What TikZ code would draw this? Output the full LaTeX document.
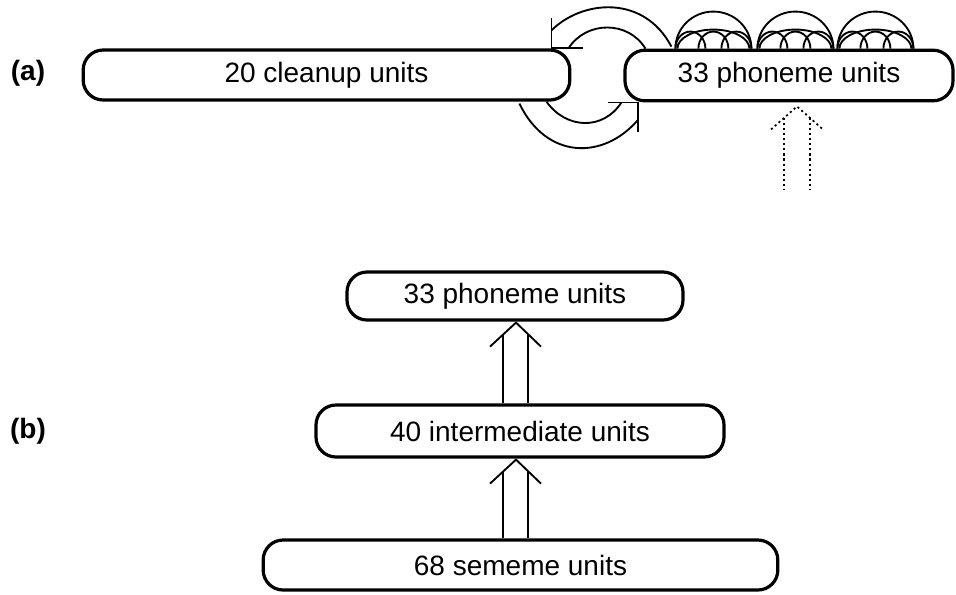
\documentclass[tikz,border=0pt]{standalone}
\usepackage{fontspec}
\setmainfont{Liberation Sans}
\usetikzlibrary{calc}
\tikzset{
  unitbox/.style={rectangle, rounded corners=15pt, draw=black, line width=2.4pt, inner sep=0pt,
                  text centered, font=\fontsize{21}{25}\selectfont},
  hollow/.style={line width=1.4pt, line join=miter},
  dotarr/.style={line width=1.3pt, dash pattern=on 1.6pt off 2.2pt},
  looparc/.style={line width=1.4pt},
  lbl/.style={font=\fontsize{21}{25}\selectfont\bfseries}
}
\begin{document}
\begin{tikzpicture}[x=0.75pt, y=0.75pt]
  \useasboundingbox (0,0) rectangle (956,-594);
  % (a)
  \node (la) [lbl] at (28,-73) {(a)};
  \node (cl) [unitbox, minimum width=365pt, minimum height=37.5pt] at (326.5,-75) {20 cleanup units};
  \node (pa) [unitbox, minimum width=246pt, minimum height=38pt] at (789,-75.5) {33 phoneme units};
  % hollow arrow over the top
  \coordinate (tipT) at ($(cl.north east)+(-20,0)$);
  \draw [hollow] ($(tipT)+(0,30)$) -- (tipT) -- ($(tipT)+(32,0)$);
  \draw [hollow] ($(tipT)+(0,18)$) .. controls ($(tipT)+(30,48)$) and ($(pa.north west)+(20,55)$) .. ($(pa.north west)+(48,2)$);
  \draw [hollow] ($(tipT)+(17,0)$) .. controls ($(tipT)+(35,28)$) and ($(pa.north west)+(5,28)$) .. ($(pa.north west)+(22,0)$);
  % hollow arrow under the bottom
  \coordinate (tipB) at ($(pa.south west)+(15,0)$);
  \draw [hollow] ($(tipB)+(0,-30)$) -- (tipB) -- ($(tipB)+(-30,0)$);
  \draw [hollow] ($(cl.south east)+(-52,-2)$) .. controls ($(cl.south east)+(-25,-58)$) and ($(tipB)+(-35,-58)$) .. ($(tipB)+(0,-17)$);
  \draw [hollow] ($(cl.south east)+(-25,0)$) .. controls ($(cl.south east)+(-5,-28)$) and ($(tipB)+(-35,-28)$) .. ($(tipB)+(-17,0)$);
  % self loops on top of the phoneme units
  \foreach \c in {90,172,252} {
    \draw [looparc] ($(pa.north west)+(\c-38,0)$) arc[start angle=180, end angle=0, x radius=38, y radius=37];
    \draw [looparc] ($(pa.north west)+(\c-36,0)$) arc[start angle=180, end angle=0, x radius=36, y radius=19];
    \foreach \s in {-23,0,23}
      \draw [looparc] ($(pa.north west)+(\c+\s-15,0)$) arc[start angle=180, end angle=0, x radius=15, y radius=17];
  }
  % dotted input arrow
  \coordinate (tipD) at ($(pa.south)+(8,-4)$);
  \draw [dotarr] ($(tipD)+(-26,-23)$) -- (tipD) -- ($(tipD)+(26,-23)$);
  \draw [dotarr] ($(tipD)+(-13,-11.5)$) -- ($(tipD)+(-13,-83)$);
  \draw [dotarr] ($(tipD)+(13,-11.5)$) -- ($(tipD)+(13,-83)$);
  % (b)
  \node (lb) [lbl] at (28,-431) {(b)};
  \node (pb) [unitbox, minimum width=252pt, minimum height=36pt] at (515,-296) {33 phoneme units};
  \node (im) [unitbox, minimum width=306pt, minimum height=39pt] at (520,-431) {40 intermediate units};
  \node (se) [unitbox, minimum width=386pt, minimum height=37.5pt] at (520.5,-565) {68 sememe units};
  \foreach \up/\lo in {pb/im, im/se} {
    \coordinate (tip) at ($(pb.south |- \up.south)+(1,-1)$);
    \coordinate (sl) at ($(tip)+(-13,0)$);
    \coordinate (sr) at ($(tip)+(12,0)$);
    \draw [hollow] ($(tip)+(-26,-24)$) -- (tip) -- ($(tip)+(25,-24)$);
    \draw [hollow] ($(tip)+(-13,-12)$) -- (sl |- \lo.north);
    \draw [hollow] ($(tip)+(12,-11.5)$) -- (sr |- \lo.north);
  }
\end{tikzpicture}
\end{document}
